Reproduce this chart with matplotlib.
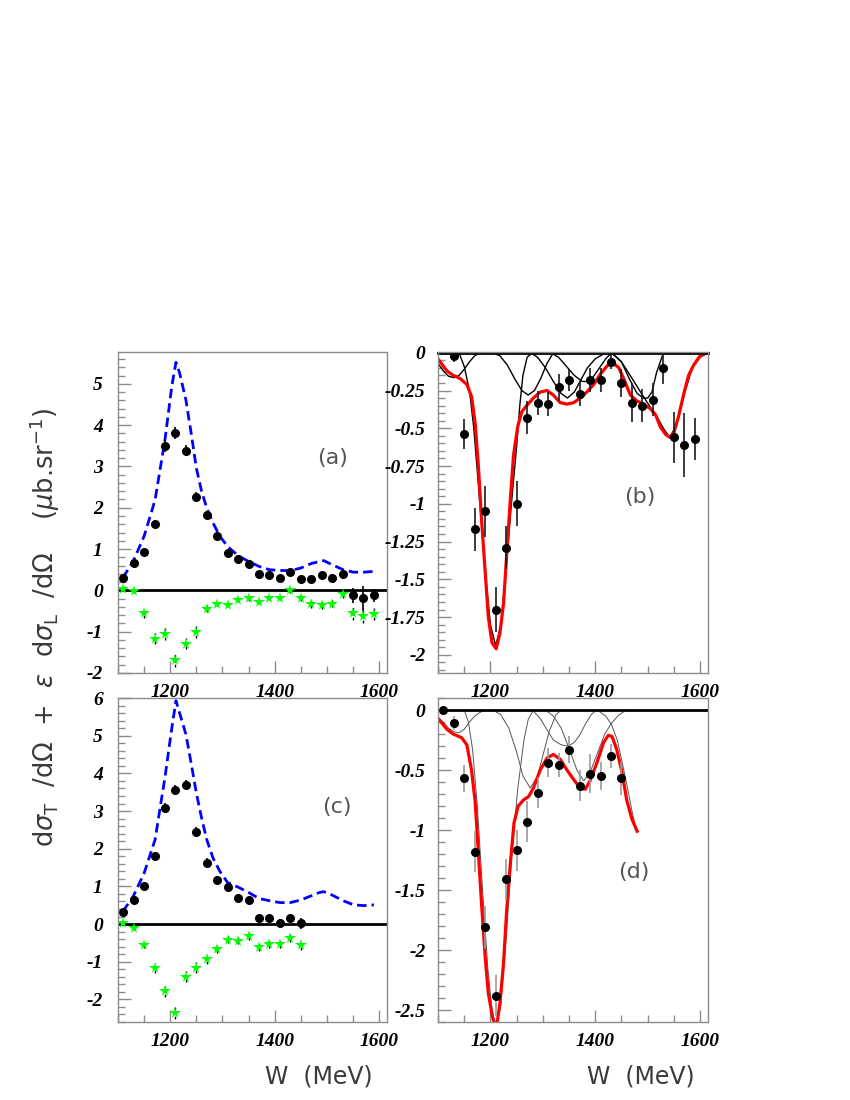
import numpy as np
import matplotlib
matplotlib.use('Agg')
import matplotlib.pyplot as plt
from matplotlib.ticker import MultipleLocator, FixedLocator, FuncFormatter

# ---------------- data ----------------
W_a = [1110, 1130, 1150, 1170, 1190, 1210, 1230, 1250, 1270, 1290, 1310, 1330, 1350,
       1370, 1390, 1410, 1430, 1450, 1470, 1490, 1510, 1530, 1550, 1570, 1590]
sig_a = [0.30, 0.66, 0.93, 1.61, 3.50, 3.81, 3.38, 2.27, 1.83, 1.31, 0.91, 0.77, 0.64,
         0.40, 0.38, 0.30, 0.44, 0.27, 0.27, 0.36, 0.31, 0.40, -0.12, -0.19, -0.12]
sig_a_err = [0.08, 0.08, 0.08, 0.10, 0.14, 0.14, 0.13, 0.12, 0.10, 0.08, 0.07, 0.07, 0.07,
             0.07, 0.07, 0.07, 0.07, 0.07, 0.08, 0.08, 0.08, 0.09, 0.18, 0.30, 0.16]
star_a = [0.03, -0.02, -0.55, -1.17, -1.06, -1.69, -1.29, -1.01, -0.44, -0.33, -0.35, -0.23, -0.19,
          -0.27, -0.18, -0.18, 0.00, -0.19, -0.33, -0.35, -0.32, -0.10, -0.56, -0.61, -0.57]
star_a_err = [0.04, 0.04, 0.11, 0.13, 0.15, 0.16, 0.13, 0.14, 0.09, 0.06, 0.06, 0.06, 0.06,
              0.06, 0.06, 0.06, 0.06, 0.07, 0.10, 0.09, 0.08, 0.08, 0.16, 0.18, 0.15]
blue_w = [1109, 1129, 1150, 1171, 1190, 1203, 1211, 1218, 1230, 1241, 1250, 1260, 1270, 1282,
          1295, 1310, 1330, 1350, 1370, 1390, 1410, 1430, 1450, 1470, 1486, 1494, 1510, 1531,
          1551, 1571, 1590]
blue_a = [0.30, 0.70, 1.31, 2.19, 3.65, 4.94, 5.52, 5.26, 4.61, 3.73, 2.96, 2.40, 1.99, 1.63,
          1.31, 1.06, 0.84, 0.70, 0.58, 0.50, 0.48, 0.48, 0.54, 0.65, 0.70, 0.72, 0.62, 0.50,
          0.44, 0.44, 0.46]

W_b = [1130, 1150, 1170, 1190, 1210, 1230, 1250, 1270, 1290, 1310, 1330, 1350, 1370,
       1390, 1410, 1430, 1450, 1470, 1490, 1510, 1530, 1550, 1570, 1590]
sig_b = [-0.02, -0.54, -1.17, -1.05, -1.70, -1.29, -1.00, -0.43, -0.33, -0.34, -0.23, -0.18, -0.27,
         -0.18, -0.18, -0.06, -0.20, -0.33, -0.35, -0.31, -0.10, -0.56, -0.61, -0.57]
sig_b_err = [0.04, 0.10, 0.14, 0.17, 0.15, 0.14, 0.15, 0.11, 0.08, 0.08, 0.09, 0.07, 0.08,
             0.08, 0.08, 0.05, 0.09, 0.13, 0.11, 0.11, 0.11, 0.17, 0.21, 0.14]
red_b_w = [1102, 1117, 1129, 1142, 1155, 1164, 1171, 1177, 1183, 1190, 1196, 1203, 1211, 1218,
           1225, 1231, 1238, 1244, 1252, 1260, 1269, 1282, 1295, 1308, 1320, 1333, 1346, 1359,
           1371, 1384, 1397, 1410, 1422, 1429, 1435, 1445, 1454, 1467, 1480, 1492, 1505, 1515,
           1524, 1534, 1542, 1550, 1559, 1569, 1578, 1588, 1600, 1613]
red_b = [-0.05, -0.12, -0.15, -0.17, -0.21, -0.29, -0.47, -0.75, -1.10, -1.45, -1.75, -1.92, -1.96,
         -1.86, -1.66, -1.34, -0.97, -0.68, -0.49, -0.39, -0.35, -0.30, -0.26, -0.25, -0.28, -0.33,
         -0.34, -0.33, -0.30, -0.26, -0.21, -0.14, -0.09, -0.07, -0.07, -0.10, -0.17, -0.28, -0.32,
         -0.34, -0.37, -0.41, -0.49, -0.54, -0.56, -0.53, -0.42, -0.27, -0.15, -0.08, -0.02, 0.0]
comp_b = [
    ([1100, 1110, 1120, 1130, 1140, 1150, 1160, 1170, 1180],
     [-0.07, -0.12, -0.155, -0.165, -0.15, -0.11, -0.06, -0.02, 0.0]),
    ([1140, 1150, 1160, 1168, 1180, 1190, 1200, 1210, 1220, 1230, 1240, 1250, 1256, 1262, 1270, 1280],
     [0.0, -0.09, -0.25, -0.49, -1.0, -1.45, -1.8, -1.94, -1.8, -1.42, -1.0, -0.62, -0.35, -0.15, -0.03, 0.0]),
    ([1204, 1218, 1232, 1246, 1260, 1272, 1284, 1296, 1308, 1320],
     [0.0, -0.02, -0.08, -0.17, -0.25, -0.28, -0.25, -0.17, -0.07, 0.0]),
    ([1277, 1290, 1305, 1320, 1335, 1347, 1360, 1371, 1385, 1400, 1415, 1431],
     [0.0, -0.03, -0.10, -0.19, -0.27, -0.30, -0.26, -0.19, -0.10, -0.04, -0.01, 0.0]),
    ([1315, 1330, 1345, 1360, 1375, 1385, 1396, 1410, 1420, 1431],
     [0.0, -0.03, -0.09, -0.15, -0.19, -0.19, -0.16, -0.09, -0.04, 0.0]),
    ([1431, 1450, 1466, 1480, 1492, 1500, 1508, 1517, 1530],
     [0.0, -0.06, -0.18, -0.27, -0.30, -0.30, -0.26, -0.13, 0.0]),
    ([1431, 1450, 1472, 1490, 1505, 1517, 1530, 1542, 1555, 1570, 1585, 1600, 1615],
     [0.0, -0.06, -0.18, -0.28, -0.36, -0.42, -0.50, -0.56, -0.48, -0.27, -0.10, -0.03, 0.0]),
]

W_c = [1110, 1130, 1150, 1170, 1190, 1210, 1230, 1250, 1270, 1290, 1310, 1330, 1350,
       1370, 1390, 1410, 1430, 1450]
sig_c = [0.33, 0.64, 1.00, 1.80, 3.08, 3.57, 3.70, 2.45, 1.62, 1.17, 0.99, 0.68, 0.63,
         0.15, 0.15, 0.04, 0.17, 0.02]
sig_c_err = [0.08, 0.08, 0.09, 0.12, 0.13, 0.13, 0.13, 0.13, 0.13, 0.10, 0.09, 0.09, 0.09,
             0.10, 0.10, 0.10, 0.11, 0.15]
star_c = [0.02, -0.10, -0.56, -1.16, -1.79, -2.36, -1.40, -1.16, -0.92, -0.67, -0.41, -0.44, -0.31,
          -0.60, -0.52, -0.53, -0.36, -0.56]
star_c_err = [0.04, 0.05, 0.08, 0.13, 0.14, 0.15, 0.15, 0.14, 0.13, 0.10, 0.10, 0.10, 0.10,
              0.11, 0.12, 0.10, 0.12, 0.13]
blue_c = [0.33, 0.73, 1.35, 2.24, 3.90, 5.20, 5.93, 5.60, 5.04, 4.20, 3.48, 2.82, 2.24, 1.75,
          1.40, 1.10, 0.98, 0.84, 0.68, 0.62, 0.57, 0.57, 0.64, 0.75, 0.84, 0.86, 0.77, 0.62,
          0.51, 0.49, 0.51]

W_d = [1110, 1130, 1150, 1170, 1190, 1210, 1230, 1250, 1270, 1290, 1310, 1330, 1350,
       1370, 1390, 1410, 1430, 1450]
sig_d = [0.00, -0.11, -0.57, -1.18, -1.81, -2.38, -1.41, -1.17, -0.93, -0.69, -0.44, -0.46, -0.33,
         -0.63, -0.53, -0.55, -0.38, -0.57]
sig_d_err = [0.02, 0.06, 0.11, 0.17, 0.18, 0.17, 0.17, 0.17, 0.17, 0.13, 0.12, 0.10, 0.11,
             0.13, 0.16, 0.12, 0.10, 0.14]
red_d_w = [1102, 1117, 1129, 1145, 1155, 1164, 1171, 1177, 1183, 1190, 1196, 1204, 1211, 1218,
           1225, 1231, 1238, 1245, 1253, 1263, 1273, 1282, 1295, 1308, 1320, 1333, 1346, 1359,
           1371, 1381, 1390, 1403, 1416, 1425, 1432, 1441, 1451, 1460, 1470, 1480]
red_d = [-0.08, -0.16, -0.20, -0.23, -0.29, -0.50, -0.77, -1.19, -1.61, -2.06, -2.36, -2.56, -2.66,
         -2.45, -2.11, -1.67, -1.28, -0.94, -0.80, -0.75, -0.72, -0.65, -0.50, -0.40, -0.37, -0.41,
         -0.50, -0.58, -0.65, -0.66, -0.59, -0.44, -0.27, -0.21, -0.22, -0.33, -0.52, -0.75, -0.91,
         -1.01]
comp_d = [
    ([1100, 1110, 1120, 1130, 1140, 1150, 1160, 1170, 1180, 1190],
     [-0.06, -0.10, -0.15, -0.18, -0.19, -0.16, -0.10, -0.05, -0.02, 0.0]),
    ([1150, 1158, 1166, 1175, 1185, 1195, 1203, 1211, 1220, 1230, 1240, 1252, 1264, 1272, 1282],
     [0.0, -0.10, -0.33, -0.80, -1.50, -2.15, -2.50, -2.65, -2.45, -1.90, -1.25, -0.66, -0.25, -0.08, 0.0]),
    ([1205, 1220, 1235, 1250, 1262, 1276, 1290, 1300, 1312, 1325, 1335],
     [0.0, -0.04, -0.15, -0.35, -0.55, -0.65, -0.55, -0.38, -0.18, -0.04, 0.0]),
    ([1280, 1295, 1306, 1320, 1335, 1348, 1360, 1370, 1382, 1392, 1402],
     [0.0, -0.07, -0.15, -0.25, -0.29, -0.30, -0.27, -0.21, -0.11, -0.04, 0.0]),
    ([1305, 1320, 1335, 1350, 1365, 1378, 1390, 1405, 1418, 1431, 1445, 1460],
     [0.0, -0.05, -0.15, -0.32, -0.50, -0.59, -0.52, -0.35, -0.20, -0.11, -0.04, 0.0]),
    ([1404, 1420, 1431, 1442, 1452, 1462, 1470, 1478],
     [0.0, -0.05, -0.12, -0.25, -0.45, -0.66, -0.84, -1.00]),
]

ylabel = (r'd$\sigma_\mathregular{T}$  /d$\Omega$  +  $\varepsilon$  d$\sigma_\mathregular{L}$'
          r'  /d$\Omega$    ($\mu$b.sr$^\mathregular{-1}$)')

# ---------------- drawing ----------------
plt.rcParams['mathtext.fontset'] = 'dejavusans'
fig = plt.figure(figsize=(8.5, 11), dpi=100)

frame = '#8c8c8c'
tick_font = dict(family='Liberation Serif', weight='bold', style='italic', size=14)
fmt = FuncFormatter(lambda v, p: '0' if abs(v) < 1e-9 else '%g' % v)


def style_axes(ax, ymaj, ystep, ylim, ypad):
    ax.set_xlim(1100, 1615)
    ax.set_ylim(*ylim)
    ax.xaxis.set_major_locator(FixedLocator([1200, 1400, 1600]))
    ax.xaxis.set_minor_locator(MultipleLocator(50))
    ax.yaxis.set_major_locator(MultipleLocator(ymaj))
    ax.yaxis.set_minor_locator(MultipleLocator(ystep))
    ax.yaxis.set_major_formatter(fmt)
    ax.tick_params(which='both', direction='in', color=frame, width=1)
    ax.tick_params(which='major', length=9)
    ax.tick_params(which='minor', length=5)
    ax.tick_params(axis='y', pad=ypad)
    ax.tick_params(axis='x', pad=8)
    for sp in ax.spines.values():
        sp.set_color(frame)
        sp.set_linewidth(1)
    for lab in ax.get_xticklabels() + ax.get_yticklabels():
        lab.set(**tick_font)


def draw_left(ax, W, sig, sig_err, star, star_err, blue):
    ax.plot(blue_w, blue, color='#0000ff', lw=2, ls=(0, (3.4, 1.8)))
    ax.axhline(0, color='k', lw=2)
    eb = ax.errorbar(W, star, yerr=star_err, fmt='*', color='#00ff00', ms=8.5, mew=0,
                     ecolor='k', elinewidth=1, capsize=0)
    eb[2][0].set_linestyle((0, (2, 1.5)))
    ax.errorbar(W, sig, yerr=sig_err, fmt='o', color='k', ms=5.5,
                ecolor='k', elinewidth=1.2, capsize=0)


ax_a = fig.add_axes([0.1388, 0.3882, 0.3165, 0.2918])
draw_left(ax_a, W_a, sig_a, sig_a_err, star_a, star_a_err, blue_a)
style_axes(ax_a, 1, 0.2, (-2, 5.77), 11)

ax_c = fig.add_axes([0.1388, 0.0709, 0.3165, 0.2945])
draw_left(ax_c, W_c, sig_c, sig_c_err, star_c, star_c_err, blue_c)
style_axes(ax_c, 1, 0.2, (-2.6, 6.0), 11)

ax_b = fig.add_axes([0.5153, 0.3882, 0.3176, 0.2918])
for cw, cv in comp_b:
    ax_b.plot(cw, cv, color='k', lw=1)
ax_b.plot(red_b_w, red_b, color='#ff0000', lw=2.3)
ax_b.axhline(0, color='k', lw=2, clip_on=False)
ax_b.errorbar(W_b, sig_b, yerr=sig_b_err, fmt='o', color='k', ms=5.5,
              ecolor='#1a1a1a', elinewidth=1.2, capsize=0)
style_axes(ax_b, 0.25, 0.05, (-2.12, 0.005), 9)

ax_d = fig.add_axes([0.5153, 0.0709, 0.3176, 0.2945])
for cw, cv in comp_d:
    ax_d.plot(cw, cv, color='#555555', lw=0.7)
ax_d.plot(red_d_w, red_d, color='#ff0000', lw=2.3)
ax_d.axhline(0, color='k', lw=2)
ax_d.errorbar(W_d, sig_d, yerr=sig_d_err, fmt='o', color='k', ms=5.5,
              ecolor='#9a9a9a', elinewidth=1.2, capsize=0)
style_axes(ax_d, 0.5, 0.1, (-2.6, 0.1), 9)

panel_font = dict(family='DejaVu Sans', color='#555555')
for txt, x, y in [('(a)', 0.3918, 0.5836), ('(b)', 0.7529, 0.5482),
                  ('(c)', 0.3965, 0.2664), ('(d)', 0.7459, 0.2073)]:
    fig.text(x, y, txt, ha='center', va='center', fontsize=16, **panel_font)

label_font = dict(family='DejaVu Sans', color='#3a3a3a')
fig.text(0.053, 0.43, ylabel, rotation=90, ha='center', va='center', fontsize=18.5, **label_font)
fig.text(0.4388, 0.021, 'W  (MeV)', ha='right', va='center', fontsize=17, **label_font)
fig.text(0.8176, 0.021, 'W  (MeV)', ha='right', va='center', fontsize=17, **label_font)

fig.savefig('out.png', dpi=100)
